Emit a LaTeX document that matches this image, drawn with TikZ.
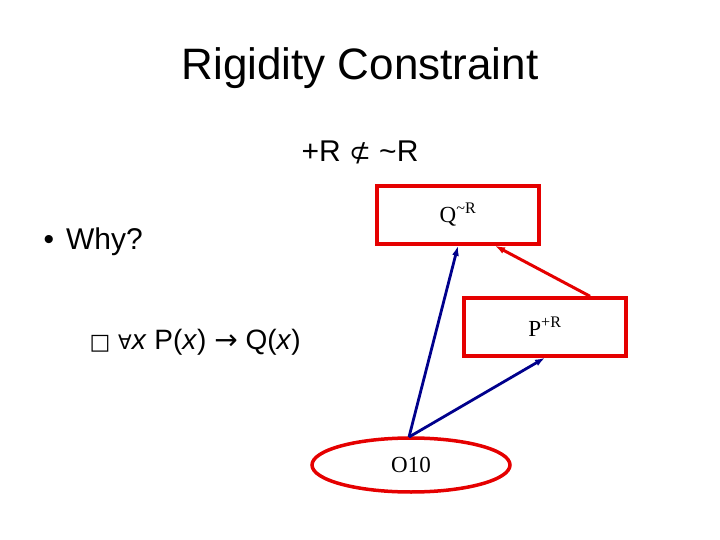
\documentclass[tikz,border=0pt]{standalone}
\usepackage{fontspec}
\setmainfont{Liberation Sans}
\newfontfamily\serifb{Liberation Serif}
\newfontfamily\djv{DejaVu Sans}
\usetikzlibrary{arrows.meta,shapes.geometric}
\begin{document}
\begin{tikzpicture}[x=1pt,y=-1pt,
  box/.style={draw=red!90!black,line width=3.5pt,minimum width=162pt,minimum height=58pt,font=\serifb\fontsize{23}{26}\selectfont},
  blu/.style={draw=blue!55!black,line width=2.8pt,-{Latex[length=10pt,width=7pt]}},
  rd/.style={draw=red!90!black,line width=3pt,-{Latex[length=10pt,width=7pt]}}]
\useasboundingbox (0,0) rectangle (720,540);
\node[font=\fontsize{44}{50}\selectfont] (title) at (360,68) {Rigidity Constraint};
\node[font=\fontsize{30}{34}\selectfont] (sub) at (360,152) {+R {\djv\fontsize{26}{30}\selectfont ⊄} \textasciitilde R};
\node[anchor=west,font=\fontsize{30}{34}\selectfont] (why) at (40,242) {•\hspace{12pt}Why?};
\node[anchor=west,font=\fontsize{28}{32}\selectfont] (form) at (86,342) {{\djv\fontsize{22}{26}\selectfont □} {\djv\fontsize{20}{24}\selectfont ∀}\textit{x} P(\textit{x}) {\djv →} Q(\textit{x})};
\node[box] (q) at (458,215) {Q\textsuperscript{\textasciitilde R}};
\node[box] (p) at (545,327) {P\textsuperscript{+R}};
\node[draw=red!90!black,line width=3.5pt,ellipse,inner sep=0pt,minimum width=198pt,minimum height=54pt,font=\serifb\fontsize{23}{26}\selectfont] (o) at (411,465) {O10};
\coordinate (os) at (409,437);
\draw[blu] (os) -- (q.south);
\draw[blu] (os) -- (p.south);
\draw[rd] ([xshift=45pt]p.north) -- ([xshift=37pt]q.south);
\end{tikzpicture}
\end{document}
